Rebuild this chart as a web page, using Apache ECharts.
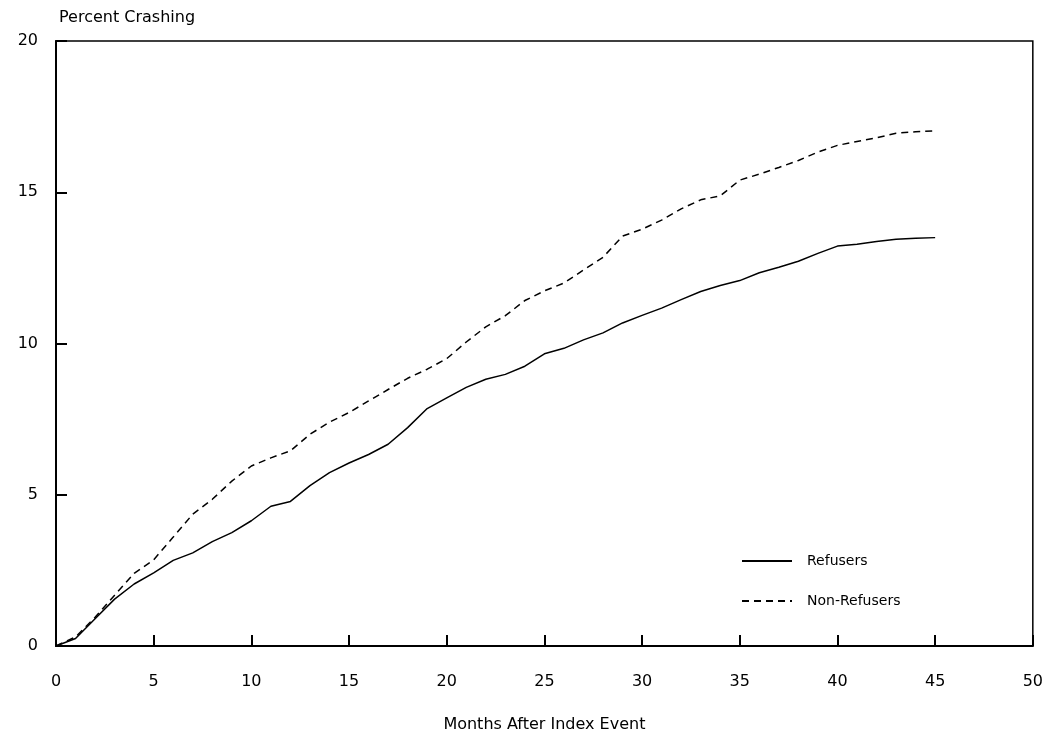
<!DOCTYPE html>
<html>
<head>
<meta charset="utf-8">
<script src="https://cdn.jsdelivr.net/npm/echarts@6/dist/echarts.min.js"></script>
<style>
html,body{margin:0;padding:0;background:#fff;}
#chart{width:1046px;height:738px;}
</style>
</head>
<body>
<div id="chart"></div>
<script>
var months = [0,1,2,3,4,5,6,7,8,9,10,11,12,13,14,15,16,17,18,19,20,21,22,23,24,25,26,27,28,29,30,31,32,33,34,35,36,37,38,39,40,41,42,43,44,45];
var refusers = [0,0.25,0.9,1.55,2.05,2.42,2.83,3.08,3.45,3.75,4.14,4.62,4.78,5.3,5.73,6.05,6.33,6.67,7.22,7.85,8.2,8.55,8.82,8.98,9.25,9.66,9.84,10.12,10.35,10.68,10.93,11.17,11.45,11.72,11.92,12.08,12.34,12.52,12.72,12.98,13.22,13.28,13.37,13.45,13.48,13.5];
var nonRefusers = [0,0.3,0.95,1.68,2.4,2.85,3.6,4.36,4.85,5.45,5.95,6.22,6.45,7.0,7.4,7.72,8.1,8.48,8.85,9.15,9.5,10.05,10.55,10.92,11.42,11.74,12.0,12.43,12.85,13.55,13.78,14.08,14.45,14.75,14.88,15.4,15.6,15.82,16.05,16.33,16.55,16.68,16.8,16.95,17.0,17.03];
var seriesNames = ['Refusers', 'Non-Refusers'];
var xTitle = 'Months After Index Event';
var yTitle = 'Percent Crashing';

function pairs(ys){ return months.map(function(m,i){ return [m, ys[i]]; }); }

var font = 'DejaVu Sans';
var chart = echarts.init(document.getElementById('chart'), null, {renderer:'canvas'});
chart.setOption({
  backgroundColor: '#fff',
  animation: false,
  textStyle: {fontFamily: font, color: '#000'},
  grid: {left: 56, right: 12, top: 41, bottom: 87, show: true, borderColor: '#000', borderWidth: 1.5, backgroundColor: 'transparent'},
  title: {text: yTitle, left: 54, top: 5, textStyle: {fontFamily: font, fontSize: 16, fontWeight: 'normal', color: '#000'}},
  legend: {
    orient: 'vertical', left: 736, top: 549, itemGap: 26, itemWidth: 50, itemHeight: 14,
    data: seriesNames,
    itemStyle: {opacity: 0},
    textStyle: {fontFamily: font, fontSize: 14, color: '#000', padding: [0,0,0,10]}
  },
  xAxis: {
    type: 'value', min: 0, max: 50, interval: 5,
    name: xTitle, nameLocation: 'middle', nameGap: 71,
    nameTextStyle: {fontFamily: font, fontSize: 16, color: '#000'},
    axisLine: {show: true, lineStyle: {color: '#000', width: 2}},
    axisTick: {show: true, inside: true, length: 11, lineStyle: {color: '#000', width: 2}},
    axisLabel: {fontFamily: font, fontSize: 16, color: '#000', margin: 28},
    splitLine: {show: false}
  },
  yAxis: {
    type: 'value', min: 0, max: 20, interval: 5,
    axisLine: {show: true, lineStyle: {color: '#000', width: 2}},
    axisTick: {show: true, inside: true, length: 11, lineStyle: {color: '#000', width: 2}},
    axisLabel: {fontFamily: font, fontSize: 16, color: '#000', margin: 18},
    splitLine: {show: false}
  },
  series: [
    {name: seriesNames[0], type: 'line', data: pairs(refusers), symbol: 'none', showSymbol: false, smooth: false,
     lineStyle: {color: '#000', width: 1.5, type: 'solid'}, itemStyle: {color: '#000'}},
    {name: seriesNames[1], type: 'line', data: pairs(nonRefusers), symbol: 'none', showSymbol: false, smooth: false,
     lineStyle: {color: '#000', width: 1.5, type: [7, 5]}, itemStyle: {color: '#000'}}
  ]
});
</script>
</body>
</html>
